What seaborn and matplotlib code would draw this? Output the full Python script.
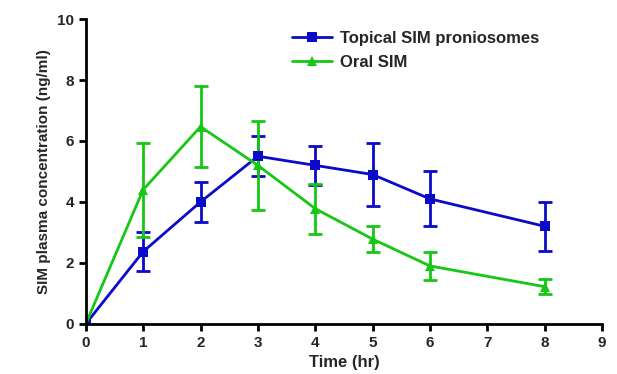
import pandas as pd
import seaborn as sns
import matplotlib.pyplot as plt
import numpy as np

# time points (hr)
time = [0, 1, 2, 3, 4, 5, 6, 8]

# Topical SIM proniosomes: mean and error
topical_mean = [0, 2.37, 4.0, 5.5, 5.2, 4.9, 4.1, 3.2]
topical_err = [0, 0.65, 0.67, 0.65, 0.65, 1.02, 0.9, 0.8]

# Oral SIM: mean and error
oral_mean = [0, 4.4, 6.47, 5.2, 3.78, 2.78, 1.9, 1.22]
oral_err = [0, 1.55, 1.32, 1.45, 0.82, 0.43, 0.45, 0.25]

labels = ['Topical SIM proniosomes', 'Oral SIM']
colors = ['#0a0ac8', '#14c814']
markers = ['s', '^']

sns.set_style('ticks')
plt.rcParams['font.family'] = ['Liberation Sans', 'DejaVu Sans']
plt.rcParams['font.weight'] = 'bold'

df = pd.concat([
    pd.DataFrame({'time': time, 'conc': topical_mean, 'err': topical_err, 'group': labels[0]}),
    pd.DataFrame({'time': time, 'conc': oral_mean, 'err': oral_err, 'group': labels[1]}),
])

fig, ax = plt.subplots(figsize=(6.17, 3.74), dpi=100)
fig.subplots_adjust(left=0.139, right=0.976, top=0.949, bottom=0.134)

sns.lineplot(data=df, x='time', y='conc', hue='group', style='group',
             palette=colors, markers=markers, dashes=False, linewidth=2,
             markersize=7, markeredgewidth=0, ax=ax)

for lab, c in zip(labels, colors):
    d = df[df['group'] == lab]
    ax.errorbar(d['time'], d['conc'], yerr=d['err'], fmt='none', ecolor=c,
                elinewidth=2, capsize=5, capthick=2, zorder=1)

ax.set_xlim(0, 9)
ax.set_ylim(0, 10)
ax.set_xticks(range(0, 10))
ax.set_yticks([0, 2, 4, 6, 8, 10])
ax.set_xlabel('Time (hr)', fontsize=12, fontweight='bold')
ax.set_ylabel('SIM plasma concentration (ng/ml)', fontsize=11, fontweight='bold')
ax.tick_params(labelsize=11, width=2, length=5, color='black')
for lbl in ax.get_xticklabels() + ax.get_yticklabels():
    lbl.set_fontweight('bold')
sns.despine(ax=ax)
for s in ['left', 'bottom']:
    ax.spines[s].set_linewidth(2)
    ax.spines[s].set_color('black')

leg = ax.legend(loc='upper left', bbox_to_anchor=(0.37, 1.01), frameon=False,
                fontsize=12, handlelength=2.4, labelspacing=0.55, handletextpad=0.5)
for t in leg.get_texts():
    t.set_fontweight('bold')

fig.savefig('out.png', dpi=100)
